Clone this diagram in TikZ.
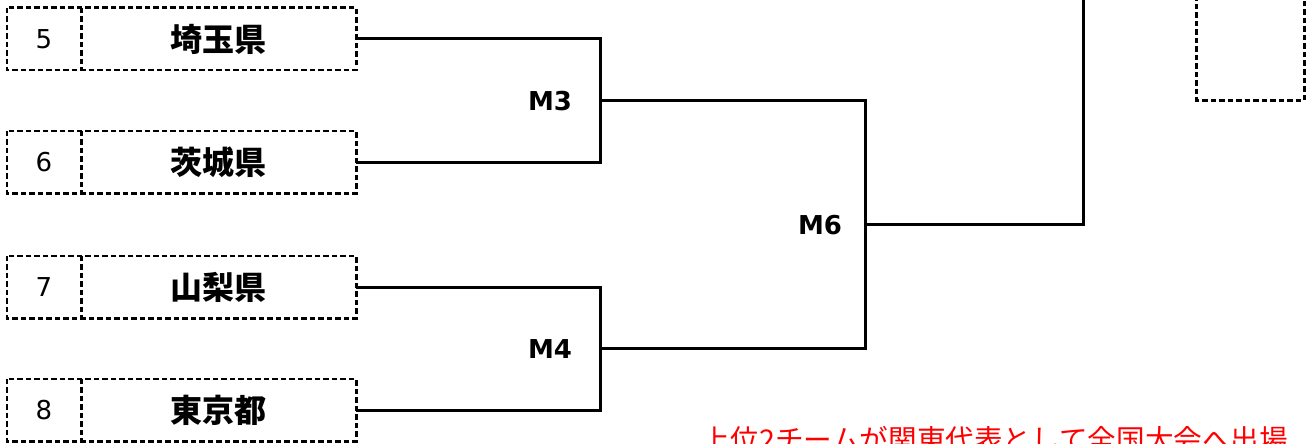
\documentclass[tikz,border=0pt]{standalone}
\usepackage{fontspec}
\setmainfont{DejaVu Sans}
\newfontfamily\jp{Noto Sans CJK JP}
\begin{document}
\begin{tikzpicture}[x=1pt,y=-1pt,
  dashline/.style={dash pattern=on 5.5pt off 3pt,line width=2.6pt},
  cell/.style={rectangle,inner sep=0pt,minimum height=62pt},
  numcell/.style={cell,minimum width=74pt,font=\fontsize{26}{30}\selectfont},
  namecell/.style={cell,minimum width=275pt,font=\jp\bfseries\fontsize{32}{38}\selectfont},
  mlabel/.style={font=\bfseries\fontsize{26}{30}\selectfont,inner sep=0pt},
  conn/.style={line width=3pt}]
\useasboundingbox (0,0) rectangle (1309,444);
\clip (0,0) rectangle (1309,444);
\foreach \n/\name/\y in {5/埼玉県/39,6/茨城県/162,7/山梨県/287,8/東京都/410}{
  \node[numcell] (n\n) at (44,\y) {\n};
  \node[namecell] (t\n) at (218.5,\y) {\name};
  \draw[dashline] (n\n.north west) rectangle (t\n.south east);
  \draw[dashline] (n\n.north east) -- (n\n.south east);
}
\coordinate (j3) at (600,100);
\coordinate (j4) at (600,348);
\coordinate (j6) at (865,224);
\coordinate (top6) at (1083,-10);
\node[mlabel] (m3) at (550,101) {M3};
\node[mlabel] (m4) at (550,349) {M4};
\node[mlabel] (m6) at (820,225) {M6};
\draw[conn] (t5.east) -| (j3) |- (t6.east);
\draw[conn] (t7.east) -| (j4) |- (t8.east);
\draw[conn] (j3) -| (j6) |- (j4);
\draw[conn] (j6) -| (top6);
\node[cell,minimum width=107pt,minimum height=130pt] (final) at (1250.5,35) {};
\draw[dashline,line width=3pt] (final.north west) -- (final.south west) -- (final.south east) -- (final.north east);
\node[anchor=base,text=red,inner sep=0pt,font=\jp\fontsize{28.6}{34}\selectfont] (note) at (995,450) {上位2チームが関東代表として全国大会へ出場};
\end{tikzpicture}
\end{document}
